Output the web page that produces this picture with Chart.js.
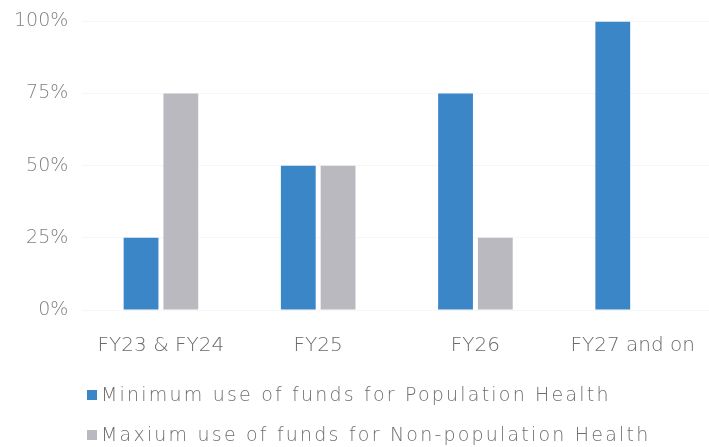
<!DOCTYPE html>
<html>
<head>
<meta charset="utf-8">
<script src="https://cdn.jsdelivr.net/npm/chart.js@4/dist/chart.umd.min.js"></script>
<style>
  html, body { margin: 0; padding: 0; background: #fff; overflow: hidden; }
  #wrap { position: relative; width: 719px; height: 447px; overflow: hidden; }
  #chart { display: block; margin-top: -4px; }
  #legend { position: absolute; left: 87px; top: 0; font-family: 'DejaVu Sans', sans-serif; font-weight: 200; }
  .item { position: absolute; left: 0; white-space: nowrap; font-size: 19px; line-height: 24px; letter-spacing: 2.2px; color: #6e6e6e; }
  .item span.box { display: inline-block; width: 10px; height: 10px; margin-right: 4px; vertical-align: 1px; }
</style>
</head>
<body>
<div id="wrap">
  <canvas id="chart" width="719" height="451"></canvas>
  <div id="legend"></div>
</div>
<script>
// カテゴリと系列
const categories = ['FY23 & FY24', 'FY25', 'FY26', 'FY27 and on'];
const popHealth = [25, 50, 75, 100];
const nonPopHealth = [75, 50, 25, null];
const yTicks = [0, 25, 50, 75, 100];

const COLORS = {
  blue: '#3b86c7',
  gray: '#b9b9bf',
  text: '#808080',
  grid: 'rgba(0, 0, 0, 0.035)',
};

const FONT = "'DejaVu Sans', sans-serif";

const datasets = [
  { label: 'Minimum use of funds for Population Health', data: popHealth, backgroundColor: COLORS.blue },
  { label: 'Maxium use of funds for Non-population Health', data: nonPopHealth, backgroundColor: COLORS.gray },
];

const chart = new Chart(document.getElementById('chart'), {
  type: 'bar',
  data: {
    labels: categories,
    datasets: datasets.map(d => ({
      ...d,
      borderWidth: 0,
      categoryPercentage: 0.506,
      barPercentage: 0.875,
    })),
  },
  options: {
    responsive: false,
    animation: false,
    // キャンバスを4px上にずらしているので下側の余白で調整
    layout: { padding: { top: 2, right: 1, bottom: 65, left: 0 } },
    scales: {
      x: {
        grid: { display: false, drawTicks: false },
        border: { display: false },
        ticks: {
          color: '#6a6a6a',
          padding: 24,
          maxRotation: 0,
          font: { family: FONT, size: 20, weight: 200 },
        },
      },
      y: {
        min: 0,
        max: 100,
        afterBuildTicks: axis => { axis.ticks = yTicks.map(v => ({ value: v })); },
        grid: { color: COLORS.grid, drawTicks: false },
        border: { display: false },
        ticks: {
          color: COLORS.text,
          padding: 14,
          callback: v => v + '%',
          font: { family: FONT, size: 19, weight: 200 },
        },
      },
    },
    plugins: {
      legend: { display: false },
      tooltip: { enabled: false },
    },
  },
});

// 凡例（左寄せ・2段）
const legendEl = document.getElementById('legend');
const rowCenters = [394, 434];
chart.data.datasets.forEach((ds, i) => {
  const row = document.createElement('div');
  row.className = 'item';
  row.style.top = (rowCenters[i] - 12) + 'px';
  row.innerHTML = `<span class="box" style="background:${ds.backgroundColor}"></span>${ds.label}`;
  legendEl.appendChild(row);
});
</script>
</body>
</html>
